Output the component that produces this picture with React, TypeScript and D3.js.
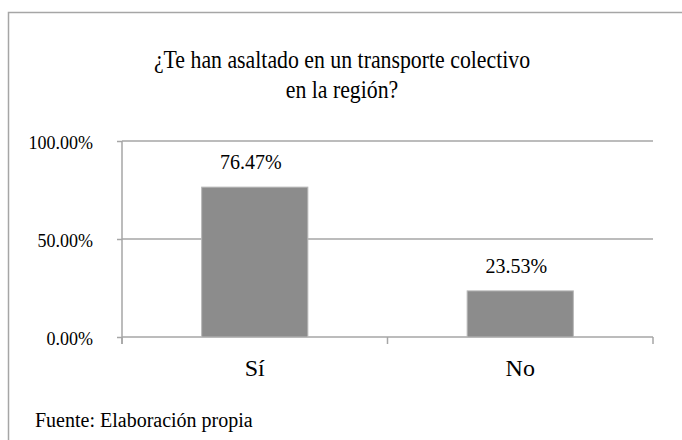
import React, { useEffect, useRef } from 'react';
import * as d3 from 'd3';

const categories = ['Sí', 'No'];
const values = [76.47, 23.53];
const yTicks = [0, 50, 100];
const titleLines = ['¿Te han asaltado en un transporte colectivo', 'en la región?'];
const sourceNote = 'Fuente: Elaboración propia';

const FONT = '"Liberation Serif", "Times New Roman", serif';
const GRID = '#a6a6a6';

const App = () => {
    const svgRef = useRef<SVGSVGElement | null>(null);

    useEffect(() => {
        drawChart();
    }, []);

    const drawChart = () => {
        const svg = d3.select(svgRef.current);
        svg.selectAll('*').remove();

        const width = 682;
        const height = 440;
        const plot = { left: 122, right: 653, top: 141, bottom: 337 };

        svg.attr('width', width).attr('height', height);

        svg.append('rect')
            .attr('width', width)
            .attr('height', height)
            .attr('fill', '#fff');

        // chart frame (cut off at right and bottom in the original)
        svg.append('rect')
            .attr('x', 8.5)
            .attr('y', 12.5)
            .attr('width', width + 10)
            .attr('height', height + 10)
            .attr('fill', 'none')
            .attr('stroke', GRID)
            .attr('stroke-width', 1.5);

        const xScale = d3.scaleBand()
            .domain(categories)
            .range([plot.left, plot.right])
            .paddingInner(0.6)
            .paddingOuter(0.3);

        const yScale = d3.scaleLinear()
            .domain([0, 100])
            .range([plot.bottom, plot.top]);

        // title - the original font is a bit condensed, so squeeze it horizontally
        svg.append('text')
            .attr('transform', 'translate(342,68) scale(0.89,1)')
            .attr('text-anchor', 'middle')
            .style('font-family', FONT)
            .style('font-size', '24.5px')
            .selectAll('tspan')
            .data(titleLines)
            .enter()
            .append('tspan')
            .attr('x', 0)
            .attr('dy', (d, i) => (i === 0 ? 0 : 30))
            .text(d => d);

        // gridlines
        svg.append('g')
            .selectAll('line')
            .data(yTicks.filter(t => t > 0))
            .enter()
            .append('line')
            .attr('x1', plot.left)
            .attr('x2', plot.right)
            .attr('y1', d => yScale(d))
            .attr('y2', d => yScale(d))
            .attr('stroke', GRID)
            .attr('stroke-width', 1.5);

        // y axis
        const yAxis = svg.append('g')
            .attr('transform', `translate(${plot.left},0)`)
            .call(d3.axisLeft(yScale)
                .tickValues(yTicks)
                .tickSize(5)
                .tickPadding(24)
                .tickFormat(d => `${(+d).toFixed(2)}%`));
        yAxis.select('.domain')
            .attr('d', `M0,${plot.top}V${plot.bottom + 7}`)
            .attr('stroke', GRID)
            .attr('stroke-width', 1.5);
        yAxis.selectAll('.tick line').attr('stroke', GRID).attr('stroke-width', 1.5);
        yAxis.selectAll('.tick text')
            .attr('fill', '#000')
            .attr('dy', '0.42em')
            .style('font-family', FONT)
            .style('font-size', '18px');

        // x axis
        svg.append('line')
            .attr('x1', plot.left)
            .attr('x2', plot.right)
            .attr('y1', plot.bottom)
            .attr('y2', plot.bottom)
            .attr('stroke', GRID)
            .attr('stroke-width', 1.5);

        const boundaries = d3.range(categories.length + 1).map(i => plot.left + i * xScale.step());
        svg.append('g')
            .selectAll('line')
            .data(boundaries)
            .enter()
            .append('line')
            .attr('x1', d => d)
            .attr('x2', d => d)
            .attr('y1', plot.bottom)
            .attr('y2', plot.bottom + 7)
            .attr('stroke', GRID)
            .attr('stroke-width', 1.5);

        svg.append('g')
            .selectAll('text')
            .data(categories)
            .enter()
            .append('text')
            .attr('x', d => (xScale(d) as number) + xScale.bandwidth() / 2)
            .attr('y', 376)
            .attr('text-anchor', 'middle')
            .style('font-family', FONT)
            .style('font-size', '24px')
            .text(d => d);

        // bars
        svg.append('g')
            .selectAll('rect')
            .data(values)
            .enter()
            .append('rect')
            .attr('x', (d, i) => xScale(categories[i]) as number)
            .attr('y', d => yScale(d))
            .attr('width', xScale.bandwidth())
            .attr('height', d => plot.bottom - yScale(d))
            .attr('fill', '#8c8c8c')
            .attr('stroke', '#b8b8b8')
            .attr('stroke-width', 1);

        // value labels
        svg.append('g')
            .selectAll('text')
            .data(values)
            .enter()
            .append('text')
            .attr('x', (d, i) => (xScale(categories[i]) as number) + xScale.bandwidth() / 2 - 4)
            .attr('y', d => yScale(d) - 18)
            .attr('text-anchor', 'middle')
            .style('font-family', FONT)
            .style('font-size', '20px')
            .text(d => `${d.toFixed(2)}%`);

        // source note
        svg.append('text')
            .attr('x', 35)
            .attr('y', 427)
            .style('font-family', FONT)
            .style('font-size', '20px')
            .text(sourceNote);
    };

    return (
        <svg ref={svgRef} style={{ position: 'absolute', left: 0, top: 0, display: 'block' }}></svg>
    );
};

export default App;
